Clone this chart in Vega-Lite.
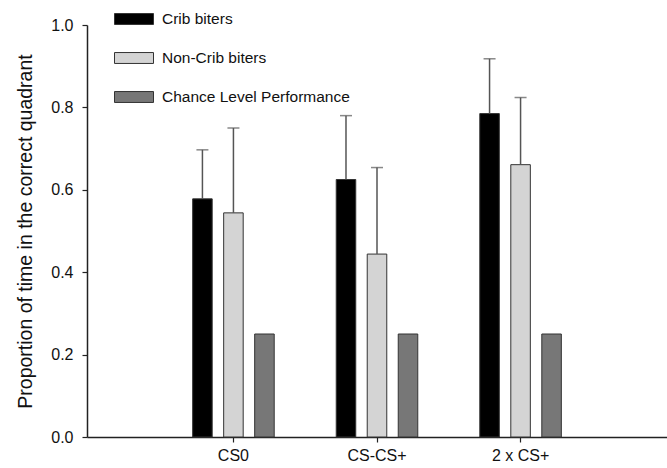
{
  "$schema": "https://vega.github.io/schema/vega-lite/v6.json",
  "width": 580,
  "height": 412,
  "autosize": {"type": "none"},
  "padding": {"left": 87, "top": 25, "right": 0, "bottom": 31},
  "background": "white",
  "config": {
    "view": {"stroke": null},
    "font": "Liberation Sans",
    "axis": {"grid": false, "domainColor": "#222", "tickColor": "#222", "labelColor": "#111", "titleColor": "#111", "labelFont": "Liberation Sans", "titleFont": "Liberation Sans", "domainWidth": 1.5, "tickWidth": 1.2}
  },
  "data": {
    "values": [
      {"group": "CS0", "series": "Crib biters", "value": 0.578, "upper": 0.697},
      {"group": "CS0", "series": "Non-Crib biters", "value": 0.544, "upper": 0.75},
      {"group": "CS0", "series": "Chance Level Performance", "value": 0.25, "upper": null},
      {"group": "CS-CS+", "series": "Crib biters", "value": 0.625, "upper": 0.78},
      {"group": "CS-CS+", "series": "Non-Crib biters", "value": 0.444, "upper": 0.654},
      {"group": "CS-CS+", "series": "Chance Level Performance", "value": 0.25, "upper": null},
      {"group": "2 x CS+", "series": "Crib biters", "value": 0.785, "upper": 0.918},
      {"group": "2 x CS+", "series": "Non-Crib biters", "value": 0.661, "upper": 0.824},
      {"group": "2 x CS+", "series": "Chance Level Performance", "value": 0.25, "upper": null}
    ]
  },
  "encoding": {
    "x": {
      "field": "group", "type": "nominal",
      "scale": {"domain": ["CS0", "CS-CS+", "2 x CS+"], "paddingInner": 0, "paddingOuter": 0.52},
      "axis": {"title": null, "labelAngle": 0, "labelFontSize": 16, "tickSize": 5, "labelPadding": 5}
    },
    "xOffset": {
      "field": "series", "type": "nominal",
      "scale": {"domain": ["Crib biters", "Non-Crib biters", "Chance Level Performance"], "paddingInner": 0.37, "paddingOuter": 1.2}
    }
  },
  "layer": [
    {
      "mark": {"type": "bar", "stroke": "#333", "strokeWidth": 1},
      "encoding": {
        "y": {
          "field": "value", "type": "quantitative",
          "scale": {"domain": [0, 1], "nice": false},
          "axis": {"title": "Proportion of time in the correct quadrant", "titleFontSize": 19.5, "titleFontWeight": "normal", "labelFontSize": 16, "format": ".1f", "values": [0, 0.2, 0.4, 0.6, 0.8, 1.0], "tickSize": 5, "labelPadding": 9, "titlePadding": 15}
        },
        "color": {
          "field": "series", "type": "nominal",
          "scale": {"domain": ["Crib biters", "Non-Crib biters", "Chance Level Performance"], "range": ["#000000", "#d4d4d4", "#777777"]},
          "legend": {
            "title": null, "orient": "none", "legendX": 27, "legendY": -26,
            "symbolType": "M-1,-0.28H1V0.28H-1Z", "symbolSize": 1521,
            "symbolStrokeColor": "#333", "symbolStrokeWidth": 1, "symbolOpacity": 1,
            "labelFontSize": 15.5, "labelFont": "Liberation Sans", "labelColor": "#111",
            "labelOffset": 8, "rowPadding": 10, "padding": 0, "labelLimit": 300
          }
        }
      }
    },
    {
      "transform": [{"filter": "datum.upper != null"}],
      "mark": {"type": "rule", "color": "#555", "strokeWidth": 1.5},
      "encoding": {
        "y": {"field": "value", "type": "quantitative"},
        "y2": {"field": "upper"}
      }
    },
    {
      "transform": [{"filter": "datum.upper != null"}],
      "mark": {"type": "tick", "color": "#555", "thickness": 1.5, "size": 12, "orient": "horizontal"},
      "encoding": {
        "y": {"field": "upper", "type": "quantitative"}
      }
    }
  ]
}
